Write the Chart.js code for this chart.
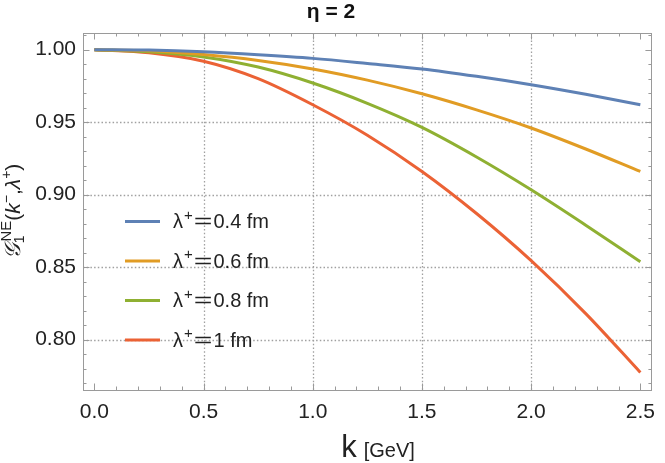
<!DOCTYPE html>
<html>
<head>
<meta charset="utf-8">
<script src="https://cdn.jsdelivr.net/npm/chart.js@4.4.1/dist/chart.umd.min.js"></script>
<style>
  html, body { margin: 0; padding: 0; background: #fff; }
  #c { display: block; }
</style>
</head>
<body>
<canvas id="c" width="665" height="463"></canvas>
<script>
// ---- data ----
const kValues   = [0, 0.25, 0.5, 0.75, 1.0, 1.25, 1.5, 1.75, 2.0, 2.25, 2.5];
const lambda04  = [1.000, 0.9997, 0.9985, 0.9965, 0.9940, 0.9905, 0.9867, 0.9816, 0.9758, 0.9692, 0.9620];
const lambda06  = [1.000, 0.9993, 0.9966, 0.9925, 0.9867, 0.9790, 0.9696, 0.9585, 0.9460, 0.9315, 0.9160];
const lambda08  = [1.000, 0.9985, 0.9950, 0.9880, 0.9770, 0.9630, 0.9464, 0.9260, 0.9034, 0.8790, 0.8538];
const lambda10  = [1.000, 0.9978, 0.9920, 0.9800, 0.9620, 0.9410, 0.9160, 0.8870, 0.8545, 0.8180, 0.7774];
const lambdaValues = ['0.4', '0.6', '0.8', '1'];
const xTickValues = [0, 0.5, 1.0, 1.5, 2.0, 2.5];
const yTickValues = [0.80, 0.85, 0.90, 0.95, 1.00];
const titleText = 'η = 2';

const colors = ['#5E81B5', '#E19C24', '#8FB032', '#EB6235'];
const seriesValues = [lambda04, lambda06, lambda08, lambda10];
const FONT = '"Liberation Sans", Arial, sans-serif';

const datasets = seriesValues.map((vals, i) => ({
  label: 'λ+=' + lambdaValues[i] + ' fm',
  data: kValues.map((k, j) => ({ x: k, y: vals[j] })),
  borderColor: colors[i],
  borderWidth: 3,
  pointRadius: 0,
  fill: false,
  cubicInterpolationMode: 'monotone'
}));

const decor = {
  id: 'decor',
  beforeDatasetsDraw(chart) {
    const { ctx, chartArea: a, scales: { x, y } } = chart;
    ctx.save();
    ctx.strokeStyle = '#a0a0a0';
    ctx.lineWidth = 1.3;
    ctx.setLineDash([1.5, 2.2]);
    xTickValues.slice(1, -1).forEach(v => {
      const px = Math.round(x.getPixelForValue(v)) + 0.5;
      ctx.beginPath(); ctx.moveTo(px, a.top); ctx.lineTo(px, a.bottom); ctx.stroke();
    });
    yTickValues.slice(0, -1).forEach(v => {
      const py = Math.round(y.getPixelForValue(v)) + 0.5;
      ctx.beginPath(); ctx.moveTo(a.left, py); ctx.lineTo(a.right, py); ctx.stroke();
    });
    ctx.restore();
  },
  afterDraw(chart) {
    const { ctx, chartArea: a, scales: { x, y } } = chart;
    ctx.save();
    // frame
    ctx.strokeStyle = '#9a9a9a';
    ctx.lineWidth = 1;
    ctx.strokeRect(Math.round(a.left) + 0.5, Math.round(a.top) + 0.5,
                   Math.round(a.right - a.left) - 1, Math.round(a.bottom - a.top));
    // ticks (inward, all four sides)
    ctx.beginPath();
    for (let i = 0; i <= 25; i++) {
      const v = i / 10;
      const px = Math.round(x.getPixelForValue(v)) + 0.5;
      const len = (i % 5 === 0) ? 6.5 : 3.5;
      ctx.moveTo(px, a.bottom); ctx.lineTo(px, a.bottom - len);
      ctx.moveTo(px, a.top); ctx.lineTo(px, a.top + len);
    }
    for (let i = 77; i <= 101; i++) {
      const v = i / 100;
      const py = Math.round(y.getPixelForValue(v)) + 0.5;
      const len = (i % 5 === 0) ? 6.5 : 3.5;
      ctx.moveTo(a.left, py); ctx.lineTo(a.left + len, py);
      ctx.moveTo(a.right, py); ctx.lineTo(a.right - len, py);
    }
    ctx.stroke();

    // title
    ctx.fillStyle = '#111';
    ctx.font = 'bold 21px ' + FONT;
    ctx.textAlign = 'center';
    ctx.textBaseline = 'alphabetic';
    ctx.fillText(titleText, 331, 18);

    // x title: k [GeV]
    ctx.textAlign = 'left';
    ctx.font = '31px ' + FONT;
    const kw = ctx.measureText('k').width;
    ctx.font = '20px ' + FONT;
    const gw = ctx.measureText('[GeV]').width;
    const total = kw + 7 + gw;
    let sx = 378 - total / 2;
    ctx.fillStyle = '#222';
    ctx.font = '31px ' + FONT;
    ctx.fillText('k', sx, 457);
    ctx.font = '20px ' + FONT;
    ctx.fillText('[GeV]', sx + kw + 7, 457);

    // y title rotated
    ctx.save();
    ctx.translate(20, (a.top + a.bottom) / 2);
    ctx.rotate(-Math.PI / 2);
    const pieces = [
      { t: '𝒢', f: 'italic 22px ' + FONT, dy: 0 },
      { t: '1', f: '14px ' + FONT, dy: 4 },
      { t: 'NE', f: '15px ' + FONT, dy: -9, back: 6 },
      { t: '(', f: '21px ' + FONT, dy: 0 },
      { t: 'k', f: 'italic 21px ' + FONT, dy: 0 },
      { t: '−', f: '14px ' + FONT, dy: -9 },
      { t: ',', f: '21px ' + FONT, dy: 0 },
      { t: 'λ', f: 'italic 21px ' + FONT, dy: 0 },
      { t: '+', f: '14px ' + FONT, dy: -9 },
      { t: ')', f: '21px ' + FONT, dy: 0 }
    ];
    let tw = 0;
    pieces.forEach(p => { ctx.font = p.f; p.w = ctx.measureText(p.t).width; tw += p.w - (p.back || 0); });
    let cx = -tw / 2;
    ctx.textAlign = 'left';
    pieces.forEach(p => {
      ctx.font = p.f;
      cx -= (p.back || 0);
      ctx.fillText(p.t, cx, p.dy);
      cx += p.w;
    });
    ctx.restore();

    // legend
    const rowY = [221.5, 261, 300.5, 340];
    chart.data.datasets.forEach((ds, i) => {
      const yy = rowY[i];
      ctx.strokeStyle = ds.borderColor;
      ctx.lineWidth = 3;
      ctx.setLineDash([]);
      ctx.beginPath(); ctx.moveTo(125, yy); ctx.lineTo(160, yy); ctx.stroke();
      ctx.fillStyle = '#222';
      ctx.textBaseline = 'middle';
      let tx = 173;
      ctx.font = '20px ' + FONT;
      ctx.fillText('λ', tx, yy + 1); tx += ctx.measureText('λ').width + 1;
      ctx.font = '15px ' + FONT;
      ctx.fillText('+', tx, yy - 6); tx += ctx.measureText('+').width + 1;
      ctx.font = '20px ' + FONT;
      ctx.save(); ctx.scale(1.6, 1); ctx.fillText('=', tx / 1.6, yy + 1); ctx.restore();
      tx += ctx.measureText('=').width * 1.6 + 1;
      ctx.fillText(lambdaValues[i] + ' fm', tx, yy + 1);
    });
    ctx.restore();
  }
};

new Chart(document.getElementById('c'), {
  type: 'line',
  data: { datasets },
  options: {
    responsive: false,
    animation: false,
    devicePixelRatio: 1,
    layout: { padding: { top: 33, right: 3, left: 0, bottom: 0 } },
    plugins: { legend: { display: false }, title: { display: false }, tooltip: { enabled: false } },
    scales: {
      x: {
        type: 'linear', min: -0.052, max: 2.553,
        afterBuildTicks: s => { s.ticks = xTickValues.map(v => ({ value: v })); },
        afterFit: s => { s.height = 73; },
        grid: { display: false, drawTicks: false },
        border: { display: false },
        ticks: { font: { family: FONT, size: 21 }, color: '#222', padding: 10,
                 maxRotation: 0, autoSkip: false, callback: v => Number(v).toFixed(1) }
      },
      y: {
        type: 'linear', min: 0.7653, max: 1.0115,
        afterBuildTicks: s => { s.ticks = yTickValues.map(v => ({ value: v })); },
        afterFit: s => { s.width = 83; },
        grid: { display: false, drawTicks: false },
        border: { display: false },
        ticks: { font: { family: FONT, size: 21 }, color: '#222', padding: 7,
                 callback: v => Number(v).toFixed(2) }
      }
    }
  },
  plugins: [decor]
});
</script>
</body>
</html>
